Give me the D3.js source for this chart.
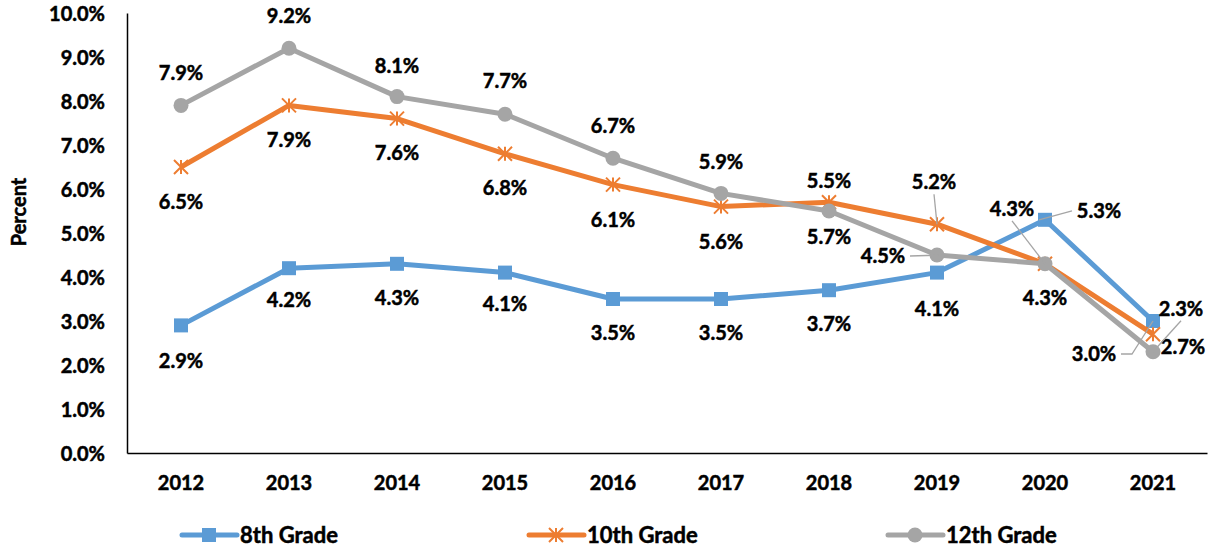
<!DOCTYPE html>
<html>
<head>
<meta charset="utf-8">
<script src="https://cdn.jsdelivr.net/npm/d3@7"></script>
<style>
  html, body { margin: 0; padding: 0; background: #fff; }
  svg text { font-family: Lato, "Open Sans", sans-serif; font-weight: 700; fill: #000; stroke: #000; stroke-width: 0.5px; }
</style>
</head>
<body>
<svg id="chart" width="1217" height="550"></svg>
<script>
// Survey years and percent values per grade
const years = ["2012", "2013", "2014", "2015", "2016", "2017", "2018", "2019", "2020", "2021"];
const grade8 = [2.9, 4.2, 4.3, 4.1, 3.5, 3.5, 3.7, 4.1, 5.3, 3.0];
const grade10 = [6.5, 7.9, 7.6, 6.8, 6.1, 5.6, 5.7, 5.2, 4.3, 2.7];
const grade12 = [7.9, 9.2, 8.1, 7.7, 6.7, 5.9, 5.5, 4.5, 4.3, 2.3];
const seriesNames = ["8th Grade", "10th Grade", "12th Grade"];
const yTicks = [0, 1, 2, 3, 4, 5, 6, 7, 8, 9, 10];

// Label placement (offset of label centre from its point, plus optional leader line)
const labelPlace8 = [
  [0, 35], [0, 32], [0, 34], [0, 31], [0, 34], [0, 34], [0, 34], [0, 36],
  [54, -9, true], [-59, 33, true]
];
const labelPlace10 = [
  [0, 35], [0, 34], [0, 34], [0, 34], [0, 35], [0, 35], [0, 35], [-3, -42, true],
  [-33, -55, true], [30, 13]
];
const labelPlace12 = [
  [0, -33], [0, -32], [0, -31], [0, -33], [0, -32], [0, -32], [0, -30], [-54, 1, true],
  [0, 34], [28, -43, true]
];

const colors = ["#5B9BD5", "#ED7D31", "#A5A5A5"];
const series = [
  { name: seriesNames[0], values: grade8, color: colors[0], marker: "square", place: labelPlace8 },
  { name: seriesNames[1], values: grade10, color: colors[1], marker: "star", place: labelPlace10 },
  { name: seriesNames[2], values: grade12, color: colors[2], marker: "circle", place: labelPlace12 }
];

const svg = d3.select("#chart");
const plot = { left: 127, right: 1207, top: 13, bottom: 453 };

const x = d3.scaleBand().domain(years).range([plot.left, plot.right]);
const y = d3.scaleLinear().domain([0, 10]).range([plot.bottom, plot.top]);
const cx = d => x(d) + x.bandwidth() / 2;

// Y axis
const yAxis = svg.append("g")
  .attr("transform", `translate(${plot.left},0)`)
  .call(d3.axisLeft(y).tickValues(yTicks).tickSize(0).tickPadding(22)
    .tickFormat(d => d3.format(".1f")(d) + "%"));
yAxis.select(".domain").attr("stroke", "#000").attr("stroke-width", 1.5);
yAxis.selectAll("text").style("font-size", "20px").attr("font-family", null).attr("dy", "0.36em");

// X axis
const xAxis = svg.append("g")
  .attr("transform", `translate(0,${plot.bottom})`)
  .call(d3.axisBottom(x).tickSize(0).tickPadding(23));
xAxis.select(".domain").attr("stroke", "#000").attr("stroke-width", 1.5);
xAxis.selectAll("text").style("font-size", "20px").attr("font-family", null);

// Y axis title
svg.append("text")
  .attr("transform", `translate(26,212) rotate(-90)`)
  .attr("text-anchor", "middle")
  .style("font-size", "20px")
  .text("Percent");

function drawMarker(g, type, color) {
  if (type === "square") {
    g.append("rect").attr("x", -7).attr("y", -7).attr("width", 14).attr("height", 14).attr("fill", color);
  } else if (type === "circle") {
    g.append("circle").attr("r", 7.5).attr("fill", color);
  } else {
    const s = 7;
    const p = d3.path();
    p.moveTo(-s, -s); p.lineTo(s, s);
    p.moveTo(-s, s); p.lineTo(s, -s);
    p.moveTo(0, -s); p.lineTo(0, s);
    g.append("path").attr("d", p.toString()).attr("stroke", color).attr("stroke-width", 2).attr("fill", "none");
  }
}

const line = d3.line().x((d, i) => cx(years[i])).y(d => y(d));

// Lines and markers
series.forEach(s => {
  svg.append("path")
    .datum(s.values)
    .attr("d", line)
    .attr("fill", "none")
    .attr("stroke", s.color)
    .attr("stroke-width", 5)
    .attr("stroke-linejoin", "round");
  s.values.forEach((v, i) => {
    const g = svg.append("g").attr("transform", `translate(${cx(years[i])},${y(v)})`);
    drawMarker(g, s.marker, s.color);
  });
});

// Data labels with leader lines where displaced
series.forEach(s => {
  s.values.forEach((v, i) => {
    const [dx, dy, leader] = s.place[i];
    const px = cx(years[i]), py = y(v);
    const lx = px + dx, ly = py + dy;
    if (leader) {
      let sx, sy;
      if (Math.abs(dx) > 40) { sx = lx - Math.sign(dx) * 27; sy = ly; }
      else { sx = lx; sy = ly + Math.sign(-dy) * 12; }
      if (s.name === "8th Grade" && i === 9) {
        svg.append("polyline")
          .attr("points", `${lx + 27},${ly} ${lx + 38},${ly} ${px},${py}`)
          .attr("fill", "none").attr("stroke", "#A5A5A5").attr("stroke-width", 1.3);
      } else {
        svg.append("line")
          .attr("x1", sx).attr("y1", sy).attr("x2", px - Math.sign(dx) * (Math.abs(dx) > 40 ? 6 : 0)).attr("y2", py)
          .attr("stroke", "#A5A5A5").attr("stroke-width", 1.3);
      }
    }
    svg.append("text")
      .attr("x", lx).attr("y", ly).attr("dy", "0.36em")
      .attr("text-anchor", "middle")
      .style("font-size", "20px")
      .text(d3.format(".1f")(v) + "%");
  });
});

// Legend
const legendX = [182, 529, 888];
series.forEach((s, i) => {
  const g = svg.append("g").attr("transform", `translate(${legendX[i]},535)`);
  g.append("line").attr("x1", 0).attr("x2", 55).attr("y1", 0).attr("y2", 0)
    .attr("stroke", s.color).attr("stroke-width", 5).attr("stroke-linecap", "round");
  const m = g.append("g").attr("transform", "translate(27,0)");
  drawMarker(m, s.marker, s.color);
  g.append("text").attr("x", 58).attr("y", 0).attr("dy", "0.36em")
    .style("font-size", "22px").text(s.name);
});
</script>
</body>
</html>
